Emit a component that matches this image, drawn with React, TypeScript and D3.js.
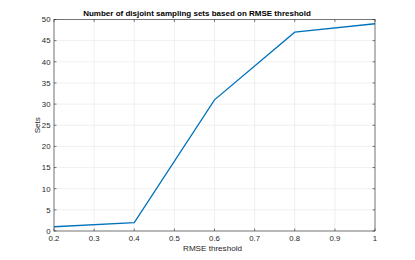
import React, { useEffect, useRef } from 'react';
import * as d3 from 'd3';

const thresholds = [0.2, 0.4, 0.6, 0.8, 1.0];
const setCounts = [1, 2, 31, 47, 49];
const xTicks = [0.2, 0.3, 0.4, 0.5, 0.6, 0.7, 0.8, 0.9, 1];
const yTicks = [0, 5, 10, 15, 20, 25, 30, 35, 40, 45, 50];

const W = 415;
const H = 260;
const margin = { left: 54, right: 40, top: 19.5, bottom: 29 };
const font = '"Liberation Sans", Arial, sans-serif';
const axisColor = '#262626';

const App = () => {
    const svgRef = useRef(null);

    useEffect(() => {
        const svg = d3.select(svgRef.current);
        svg.selectAll('*').remove();

        const x = d3.scaleLinear().domain([0.2, 1]).range([margin.left, W - margin.right]);
        const y = d3.scaleLinear().domain([0, 50]).range([H - margin.bottom, margin.top]);
        const [x0, x1] = x.range();
        const [y0, y1] = y.range();

        svg.append('rect').attr('width', W).attr('height', H).attr('fill', '#fff');

        // grid
        const grid = svg.append('g').attr('stroke', '#e6e6e6').attr('stroke-width', 0.6);
        grid.selectAll('.gx').data(xTicks).enter().append('line')
            .attr('x1', (d) => x(d)).attr('x2', (d) => x(d))
            .attr('y1', y0).attr('y2', y1);
        grid.selectAll('.gy').data(yTicks).enter().append('line')
            .attr('y1', (d) => y(d)).attr('y2', (d) => y(d))
            .attr('x1', x0).attr('x2', x1);

        // data line
        const pts = thresholds.map((t, i) => [t, setCounts[i]]);
        svg.append('path')
            .datum(pts)
            .attr('fill', 'none')
            .attr('stroke', '#0072BD')
            .attr('stroke-width', 1.3)
            .attr('d', d3.line().x((d) => x(d[0])).y((d) => y(d[1])));

        // box + inward ticks
        const axes = svg.append('g').attr('stroke', axisColor).attr('stroke-width', 0.6);
        axes.append('rect')
            .attr('x', x0).attr('y', y1)
            .attr('width', x1 - x0).attr('height', y0 - y1)
            .attr('fill', 'none');
        const tl = 2.5;
        xTicks.forEach((t) => {
            axes.append('line').attr('x1', x(t)).attr('x2', x(t)).attr('y1', y0).attr('y2', y0 - tl);
            axes.append('line').attr('x1', x(t)).attr('x2', x(t)).attr('y1', y1).attr('y2', y1 + tl);
        });
        yTicks.forEach((t) => {
            axes.append('line').attr('y1', y(t)).attr('y2', y(t)).attr('x1', x0).attr('x2', x0 + tl);
            axes.append('line').attr('y1', y(t)).attr('y2', y(t)).attr('x1', x1).attr('x2', x1 - tl);
        });

        // tick labels
        const labels = svg.append('g')
            .attr('font-family', font)
            .attr('font-size', 7.8)
            .attr('fill', axisColor);
        labels.selectAll('.xl').data(xTicks).enter().append('text')
            .attr('x', (d) => x(d))
            .attr('y', y0 + 9.8)
            .attr('text-anchor', 'middle')
            .text((d) => d3.format('')(d));
        labels.selectAll('.yl').data(yTicks).enter().append('text')
            .attr('x', x0 - 3.5)
            .attr('y', (d) => y(d) + 2.8)
            .attr('text-anchor', 'end')
            .text((d) => d);

        // axis titles
        svg.append('text')
            .attr('x', (x0 + x1) / 2 - 2)
            .attr('y', 251)
            .attr('text-anchor', 'middle')
            .attr('font-family', font)
            .attr('font-size', 8.1)
            .attr('fill', axisColor)
            .text('RMSE threshold');
        svg.append('text')
            .attr('transform', `translate(40, ${(y0 + y1) / 2}) rotate(-90)`)
            .attr('text-anchor', 'middle')
            .attr('font-family', font)
            .attr('font-size', 8.1)
            .attr('fill', axisColor)
            .text('Sets');

        svg.append('text')
            .attr('x', 197)
            .attr('y', 15.7)
            .attr('text-anchor', 'middle')
            .attr('font-family', font)
            .attr('font-size', 8)
            .attr('font-weight', 'bold')
            .attr('fill', '#000')
            .text('Number of disjoint sampling sets based on RMSE threshold');
    }, []);

    return (
        <svg ref={svgRef} width={W} height={H}
            style={{ position: 'absolute', left: 0, top: 0, display: 'block' }}></svg>
    );
};

export default App;
